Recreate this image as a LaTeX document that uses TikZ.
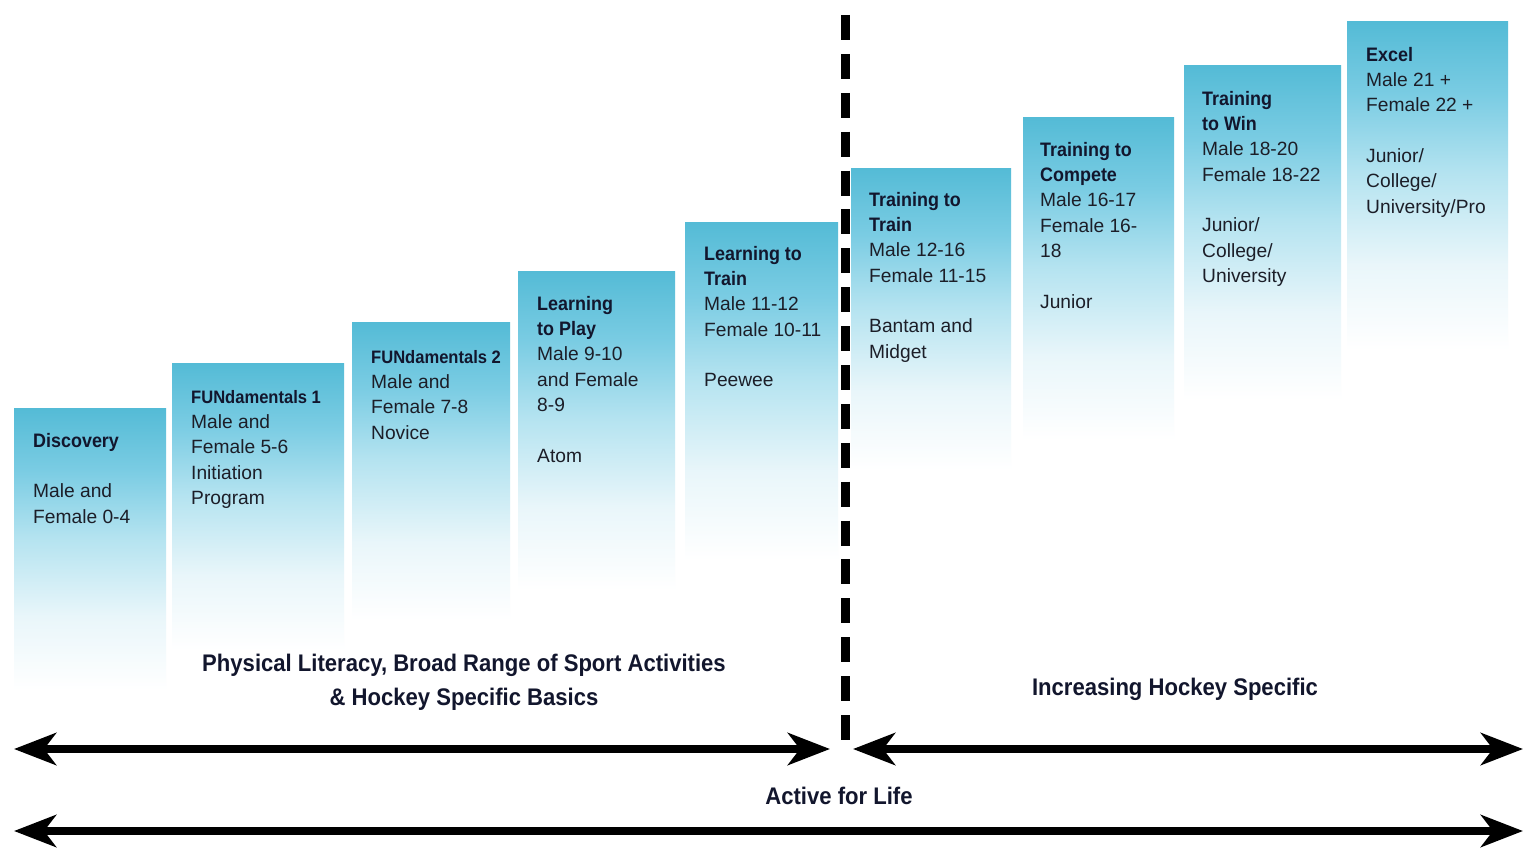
\documentclass[tikz,border=0pt]{standalone}
\usepackage{fontspec}
\setmainfont{Liberation Sans}
\newfontfamily\headfont[FakeStretch=0.92]{Liberation Sans}
\newfontfamily\labfont[FakeStretch=0.92]{Liberation Sans}
\usetikzlibrary{arrows.meta}
\definecolor{boxtop}{RGB}{84,187,214}
\definecolor{boxhi}{RGB}{122,204,227}
\definecolor{boxmid}{RGB}{180,227,240}
\definecolor{boxlow}{RGB}{233,246,250}
\definecolor{textc}{RGB}{28,30,40}
\definecolor{headc}{RGB}{18,22,45}
\pgfdeclareverticalshading{boxfade}{100bp}{color(0bp)=(white); color(25bp)=(white); color(38bp)=(boxlow); color(52bp)=(boxmid); color(64bp)=(boxhi); color(75bp)=(boxtop); color(100bp)=(boxtop)}
\newcommand\stephead[1]{{\color{headc}\headfont\bfseries\fontsize{19.5}{25.3}\selectfont #1}}
\newcommand\stepheadsm[1]{{\color{headc}\headfont\bfseries\fontsize{18}{25.3}\selectfont #1}}
\tikzset{
  fadebox/.style={shading=boxfade},
  boxtext/.style={anchor=north west, inner sep=0pt, align=left, text=textc,
    font=\fontsize{19.2}{25.3}\selectfont},
  biglabel/.style={inner sep=0pt, align=center, text=headc,
    font=\labfont\bfseries\fontsize{24}{34}\selectfont},
  bigarrow/.style={line width=8pt, {Stealth[length=42pt,width=32pt,inset=12pt]}-{Stealth[length=42pt,width=32pt,inset=12pt]}},
  divider/.style={line width=9pt, dash pattern=on 25pt off 13.89pt}
}
\begin{document}
\begin{tikzpicture}[x=1pt,y=-1pt]
\useasboundingbox (0,0) rectangle (1525,848);
\fill[white] (0,0) rectangle (1525,848);
% shaded steps
\shade[fadebox] (14,408) rectangle (166,690);
\shade[fadebox] (172,363) rectangle (344,650);
\shade[fadebox] (352,322) rectangle (510,620);
\shade[fadebox] (518,271) rectangle (675,590);
\shade[fadebox] (685,222) rectangle (838,560);
\shade[fadebox] (851,168) rectangle (1011,470);
\shade[fadebox] (1023,118) rectangle (1174,440);
\shade[fadebox] (1184,66) rectangle (1341,400);
\shade[fadebox] (1347,22) rectangle (1508,350);
% texts
\node[boxtext] (discovery) at (33,429.3) {\strut\stephead{Discovery}\\[25.3pt]Male and\\Female 0-4};
\node[boxtext] (fun1) at (191,385.3) {\strut\stepheadsm{FUNdamentals 1}\\Male and\\Female 5-6\\Initiation\\Program};
\node[boxtext] (fun2) at (371,345.3) {\strut\stepheadsm{FUNdamentals 2}\\Male and\\Female 7-8\\Novice};
\node[boxtext] (ltp) at (537,292.3) {\strut\stephead{Learning}\\\stephead{to Play}\\Male 9-10\\and Female\\8-9\\[25.3pt]Atom};
\node[boxtext] (ltt) at (704,242.3) {\strut\stephead{Learning to}\\\stephead{Train}\\Male 11-12\\Female 10-11\\[25.3pt]Peewee};
\node[boxtext] (ttt) at (869,188.3) {\strut\stephead{Training to}\\\stephead{Train}\\Male 12-16\\Female 11-15\\[25.3pt]Bantam and\\Midget};
\node[boxtext] (ttc) at (1040,138.3) {\strut\stephead{Training to}\\\stephead{Compete}\\Male 16-17\\Female 16-\\18\\[25.3pt]Junior};
\node[boxtext] (ttw) at (1202,87.3) {\strut\stephead{Training}\\\stephead{to Win}\\Male 18-20\\Female 18-22\\[25.3pt]Junior/\\College/\\University};
\node[boxtext] (excel) at (1366,43.3) {\strut\stephead{Excel}\\Male 21 +\\Female 22 +\\[25.3pt]Junior/\\College/\\University/Pro};
% divider
\coordinate (dtop) at (845.5,15);
\coordinate (dbot) at (845.5,740);
\draw[divider] (dtop) -- (dbot);
% labels
\node[biglabel] (physlit) at (464,682) {Physical Literacy, Broad Range of Sport Activities\\\& Hockey Specific Basics};
\node[biglabel] (increasing) at (1175,689) {Increasing Hockey Specific};
\node[biglabel] (active) at (839,796) {Active for Life};
% arrows
\coordinate (ulL) at (14,749);
\coordinate (ulR) at (830,749);
\coordinate (urL) at (853,749);
\coordinate (urR) at (1523,749);
\coordinate (bL) at (14,831);
\coordinate (bR) at (1523,831);
\draw[bigarrow] (ulL) -- (ulR);
\draw[bigarrow] (urL) -- (urR);
\draw[bigarrow] (bL) -- (bR);
\end{tikzpicture}
\end{document}
